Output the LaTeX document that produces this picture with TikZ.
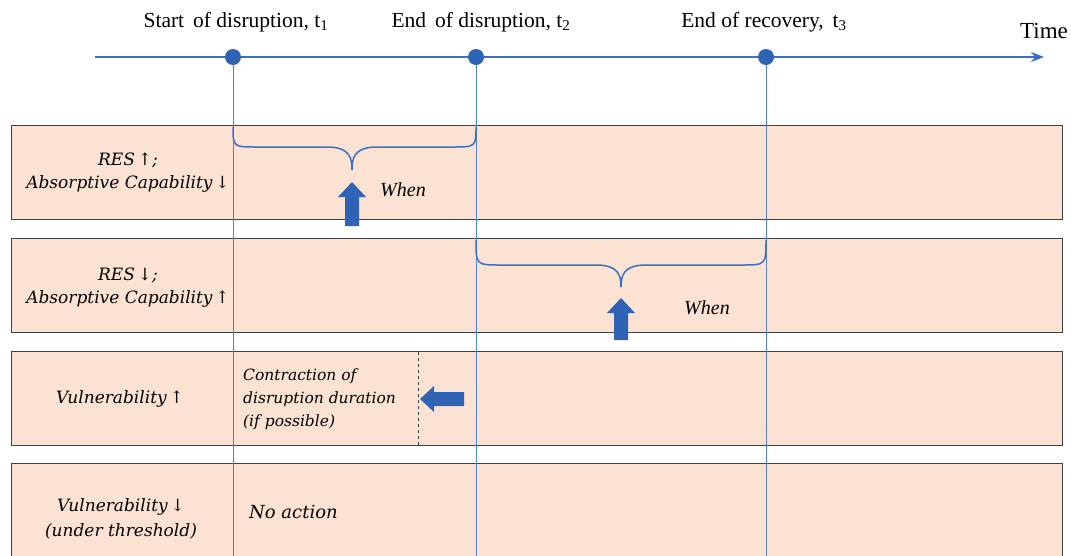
\documentclass[tikz,border=0pt]{standalone}
\usepackage{fontspec}
\newfontfamily\tnr{Liberation Serif}
\newfontfamily\camb{DejaVu Serif}
\usetikzlibrary{arrows.meta}
\definecolor{peach}{HTML}{FCE2D2}
\definecolor{tblue}{HTML}{3A70C4}
\definecolor{vblue}{HTML}{4F82D2}
\definecolor{ablue}{HTML}{2E63B5}
\definecolor{edgegray}{HTML}{404040}
\begin{document}
\begin{tikzpicture}[x=1pt,y=-1pt,
  rowbox/.style={draw=edgegray, line width=1pt, fill=peach, minimum width=1051pt, minimum height=94pt, anchor=north west, inner sep=0pt},
  dot/.style={circle, fill=ablue, inner sep=0pt, minimum size=16pt},
  vline/.style={draw=vblue, line width=1pt},
  tline/.style={draw=tblue, line width=2pt, -{Stealth[length=13pt,width=10pt]}},
  bracestyle/.style={draw=tblue, line width=1.5pt},
  blockarrow/.style={fill=ablue},
  head/.style={font=\tnr\fontsize{21.5}{22}\selectfont, inner sep=0pt},
  lbl/.style={font=\camb\itshape\fontsize{17}{23}\selectfont, align=center, inner sep=0pt},
  itxt/.style={font=\camb\itshape\fontsize{15.5}{23}\selectfont, align=left, inner sep=0pt, anchor=west},
  when/.style={font=\tnr\itshape\fontsize{20}{22}\selectfont, inner sep=0pt}
]
\clip (0,0) rectangle (1071,555);
\fill[white] (0,0) rectangle (1071,555);

% rows
\node[rowbox] (r1) at (11,125) {};
\node[rowbox] (r2) at (11,238) {};
\node[rowbox] (r3) at (11,351) {};
\node[rowbox, minimum height=120pt] (r4) at (11,463) {};

% timeline
\coordinate (tl0) at (95,57);
\coordinate (tl1) at (1044,57);
\draw[tline] (tl0) -- (tl1);
\node[dot] (t1) at (233,57) {};
\node[dot] (t2) at (476,57) {};
\node[dot] (t3) at (766,57) {};
\coordinate (b1) at (233,560);
\coordinate (b2) at (476,560);
\coordinate (b3) at (766,560);
\draw[vline] (t1.south) -- (b1);
\draw[vline] (t2.south) -- (b2);
\draw[vline] (t3.south) -- (b3);

% headings
\node[head] (h1) at (236,22) {Start\, of disruption, t\textsubscript{1}};
\node[head] (h2) at (481,22) {End\, of disruption, t\textsubscript{2}};
\node[head] (h3) at (764,22) {End of recovery,\, t\textsubscript{3}};
\node[head, font=\tnr\fontsize{23}{24}\selectfont] (time) at (1044,31) {Time};

% row labels
\node[lbl] (l1) at (128,173) {RES\,↑;\\ Absorptive Capability\,↓};
\node[lbl] (l2) at (128,288) {RES\,↓;\\ Absorptive Capability\,↑};
\node[lbl] (l3) at (120,399) {Vulnerability\,↑};
\node[lbl, font=\camb\itshape\fontsize{17}{25}\selectfont] (l4) at (121,519) {Vulnerability\,↓\\ (under threshold)};

% brace 1
\draw[bracestyle] (233,127) .. controls (233,147) .. (258,147) -- (327,147)
  .. controls (350,147) and (352,158) .. (352,170)
  .. controls (352,158) and (354,147) .. (377,147) -- (451,147)
  .. controls (476,147) .. (476,127);
% brace 2
\draw[bracestyle] (476,240) .. controls (476,265) .. (501,265) -- (596,265)
  .. controls (619,265) and (621,276) .. (621,287)
  .. controls (621,276) and (623,265) .. (646,265) -- (741,265)
  .. controls (766,265) .. (766,240);

% block arrows
\fill[blockarrow] (345,226) -- (345,197) -- (338,197) -- (352,182) -- (366,197) -- (359,197) -- (359,226) -- cycle;
\fill[blockarrow] (614,340) -- (614,313) -- (607,313) -- (621,298) -- (635,313) -- (628,313) -- (628,340) -- cycle;
\fill[blockarrow] (464,392) -- (434,392) -- (434,386) -- (420,399) -- (434,412) -- (434,406) -- (464,406) -- cycle;

\node[when] (w1) at (403,190) {When};
\node[when] (w2) at (707,308) {When};

% row 3 content
\coordinate (d0) at (418,352);
\coordinate (d1) at (418,445);
\draw[edgegray, dashed, line width=0.8pt] (d0) -- (d1);
\node[itxt] (c3) at (243,399) {Contraction of\\ disruption duration\\ (if possible)};
\node[itxt, font=\camb\itshape\fontsize{18}{23}\selectfont] (na) at (249,512) {No action};
\end{tikzpicture}
\end{document}
